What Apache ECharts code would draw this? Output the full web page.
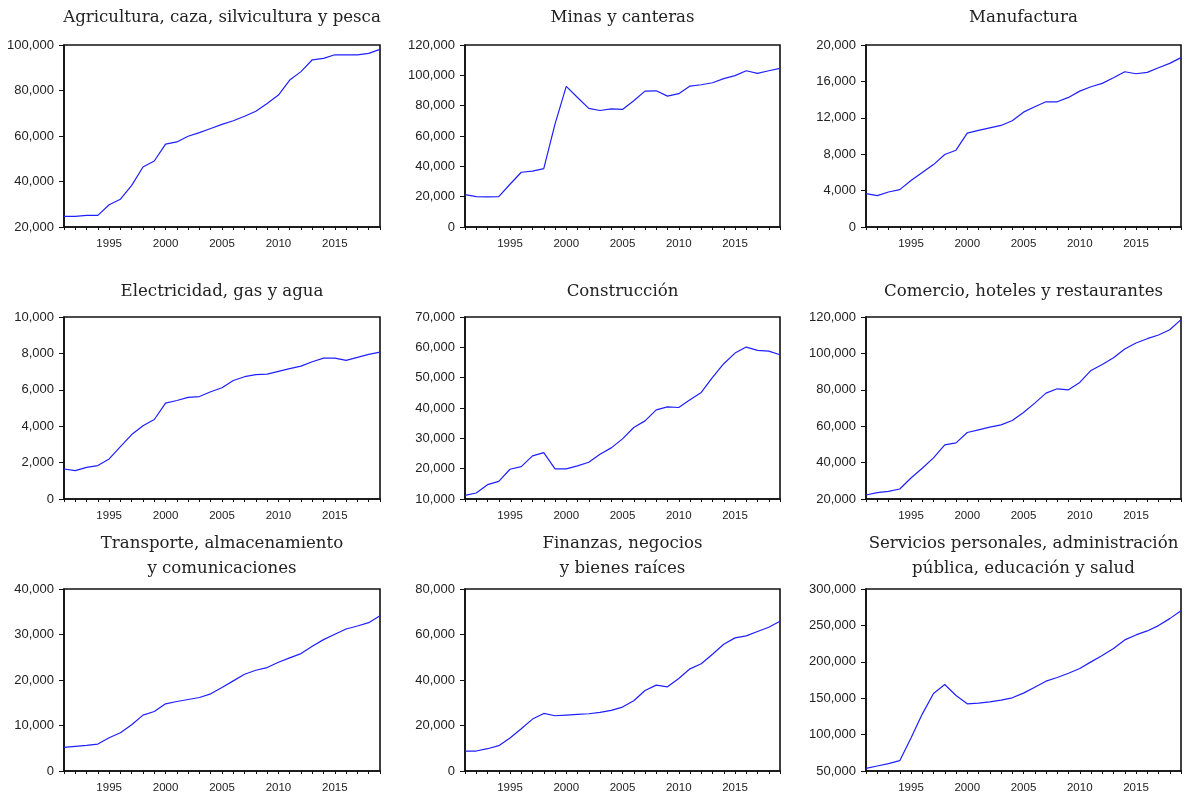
<!DOCTYPE html>
<html>
<head>
<meta charset="utf-8">
<script src="https://cdn.jsdelivr.net/npm/echarts@6/dist/echarts.min.js"></script>
<style>
  html, body { margin: 0; padding: 0; background: #fff; }
  #chart { width: 1188px; height: 796px; }
</style>
</head>
<body>
<div id="chart"></div>
<script>
// Annual series, 1991–2019
const years = [1991, 1992, 1993, 1994, 1995, 1996, 1997, 1998, 1999, 2000,
  2001, 2002, 2003, 2004, 2005, 2006, 2007, 2008, 2009, 2010,
  2011, 2012, 2013, 2014, 2015, 2016, 2017, 2018, 2019];

const agricultura = [24700, 24700, 25100, 25100, 29800, 32200, 38300, 46400, 49000, 56400,
  57400, 59900, 61500, 63300, 65100, 66700, 68700, 70900, 74300, 78000,
  84600, 88300, 93500, 94100, 95700, 95700, 95700, 96300, 98100];

const minas = [21400, 20000, 19800, 20000, 28200, 36100, 36800, 38500, 67800, 92700,
  85400, 78200, 76800, 77900, 77500, 83200, 89600, 89800, 86300, 87900,
  92900, 93800, 95100, 97800, 99800, 103000, 101300, 103000, 104600];

const manufactura = [3670, 3450, 3850, 4110, 5100, 5980, 6860, 7960, 8440, 10310,
  10610, 10900, 11160, 11670, 12620, 13210, 13760, 13760, 14240, 14930,
  15410, 15780, 16400, 17060, 16840, 16990, 17500, 17980, 18610];

const electricidad = [1650, 1560, 1740, 1835, 2200, 2880, 3540, 4020, 4370, 5270,
  5410, 5580, 5630, 5890, 6110, 6510, 6720, 6830, 6860, 7010,
  7160, 7300, 7540, 7740, 7740, 7620, 7780, 7950, 8070];

const construccion = [11210, 11980, 14730, 15830, 19800, 20680, 24200, 25300, 19910, 19910,
  20900, 22110, 24750, 26850, 29820, 33560, 35760, 39400, 40390, 40170,
  42700, 45120, 50070, 54590, 58110, 60090, 58990, 58770, 57560];

const comercio = [22200, 23490, 24220, 25500, 31560, 36880, 42570, 49730, 50830, 56520,
  57990, 59460, 60740, 63130, 67530, 72670, 78170, 80560, 80000, 84040,
  90650, 93950, 97620, 102390, 105690, 108080, 110100, 113030, 118540];

const transporte = [5190, 5410, 5630, 5920, 7310, 8410, 10160, 12280, 13080, 14770,
  15280, 15720, 16160, 16960, 18350, 19810, 21270, 22150, 22730, 23900,
  24850, 25800, 27410, 28870, 30040, 31210, 31870, 32600, 34140];

const finanzas = [8780, 8780, 9800, 11120, 14480, 18580, 22820, 25310, 24290, 24580,
  24870, 25160, 25750, 26630, 28090, 30870, 35400, 37750, 37010, 40670,
  44910, 47110, 51350, 55740, 58520, 59400, 61300, 63200, 65840];

const servicios = [53660, 56860, 60060, 64170, 95240, 128150, 156490, 168800, 153740, 142310,
  143230, 145060, 147340, 150540, 156940, 165160, 173390, 178420, 184360, 190760,
  199900, 208580, 218180, 230060, 236910, 242400, 249710, 259310, 270280];

// Panel titles and y-axis ranges [min, max, interval]
const titles = [
  'Agricultura, caza, silvicultura y pesca',
  'Minas y canteras',
  'Manufactura',
  'Electricidad, gas y agua',
  'Construcción',
  'Comercio, hoteles y restaurantes',
  'Transporte, almacenamiento\ny comunicaciones',
  'Finanzas, negocios\ny bienes raíces',
  'Servicios personales, administración\npública, educación y salud'
];
const seriesList = [agricultura, minas, manufactura, electricidad, construccion,
  comercio, transporte, finanzas, servicios];
const yRanges = [
  [20000, 100000, 20000],
  [0, 120000, 20000],
  [0, 20000, 4000],
  [0, 10000, 2000],
  [10000, 70000, 10000],
  [20000, 120000, 20000],
  [0, 40000, 10000],
  [0, 80000, 20000],
  [50000, 300000, 50000]
];

// Layout of the 3x3 panel grid (plot rectangles in px)
const colLeft = [64, 465, 866];
const colWidth = [316, 315, 315];
const rowTop = [45, 317, 589];
const plotHeight = 182;
const titleY = [5.5, 279, 531.5];

const chart = echarts.init(document.getElementById('chart'), null, { renderer: 'canvas' });

const grid = [], xAxis = [], yAxis = [], series = [], title = [];
seriesList.forEach((vals, i) => {
  const r = Math.floor(i / 3), c = i % 3;
  grid.push({
    left: colLeft[c], top: rowTop[r], width: colWidth[c], height: plotHeight,
    show: true, borderColor: '#111', borderWidth: 1.6, backgroundColor: '#fff'
  });
  xAxis.push({
    type: 'value', gridIndex: i, min: 1991, max: 2019, interval: 1,
    splitLine: { show: false },
    axisLine: { lineStyle: { color: '#111', width: 1.6 } },
    axisTick: { length: 3, lineStyle: { color: '#111', width: 1 } },
    axisLabel: {
      color: '#222', fontFamily: 'Liberation Sans', fontSize: 11.5, margin: 11,
      formatter: v => (v % 5 === 0 ? String(v) : '')
    }
  });
  yAxis.push({
    type: 'value', gridIndex: i, min: yRanges[i][0], max: yRanges[i][1], interval: yRanges[i][2],
    splitLine: { show: false },
    axisLine: { show: true, lineStyle: { color: '#111', width: 1.6 } },
    axisTick: { show: true, length: 5, lineStyle: { color: '#111', width: 1 } },
    axisLabel: {
      color: '#222', fontFamily: 'Liberation Sans', fontSize: 13, margin: 10,
      formatter: v => v.toLocaleString('en-US')
    }
  });
  series.push({
    type: 'line', xAxisIndex: i, yAxisIndex: i,
    data: years.map((y, k) => [y, vals[k]]),
    showSymbol: false, symbol: 'none',
    lineStyle: { color: '#1f1fff', width: 1.2 },
    animation: false
  });
  title.push({
    text: titles[i],
    left: colLeft[c] + colWidth[c] / 2, top: titleY[r], textAlign: 'center',
    padding: 0,
    textStyle: {
      fontFamily: 'DejaVu Serif', fontSize: 16.6, fontWeight: 'normal',
      color: '#222', lineHeight: 25
    }
  });
});

chart.setOption({
  animation: false,
  backgroundColor: '#fff',
  title, grid, xAxis, yAxis, series
});
</script>
</body>
</html>
